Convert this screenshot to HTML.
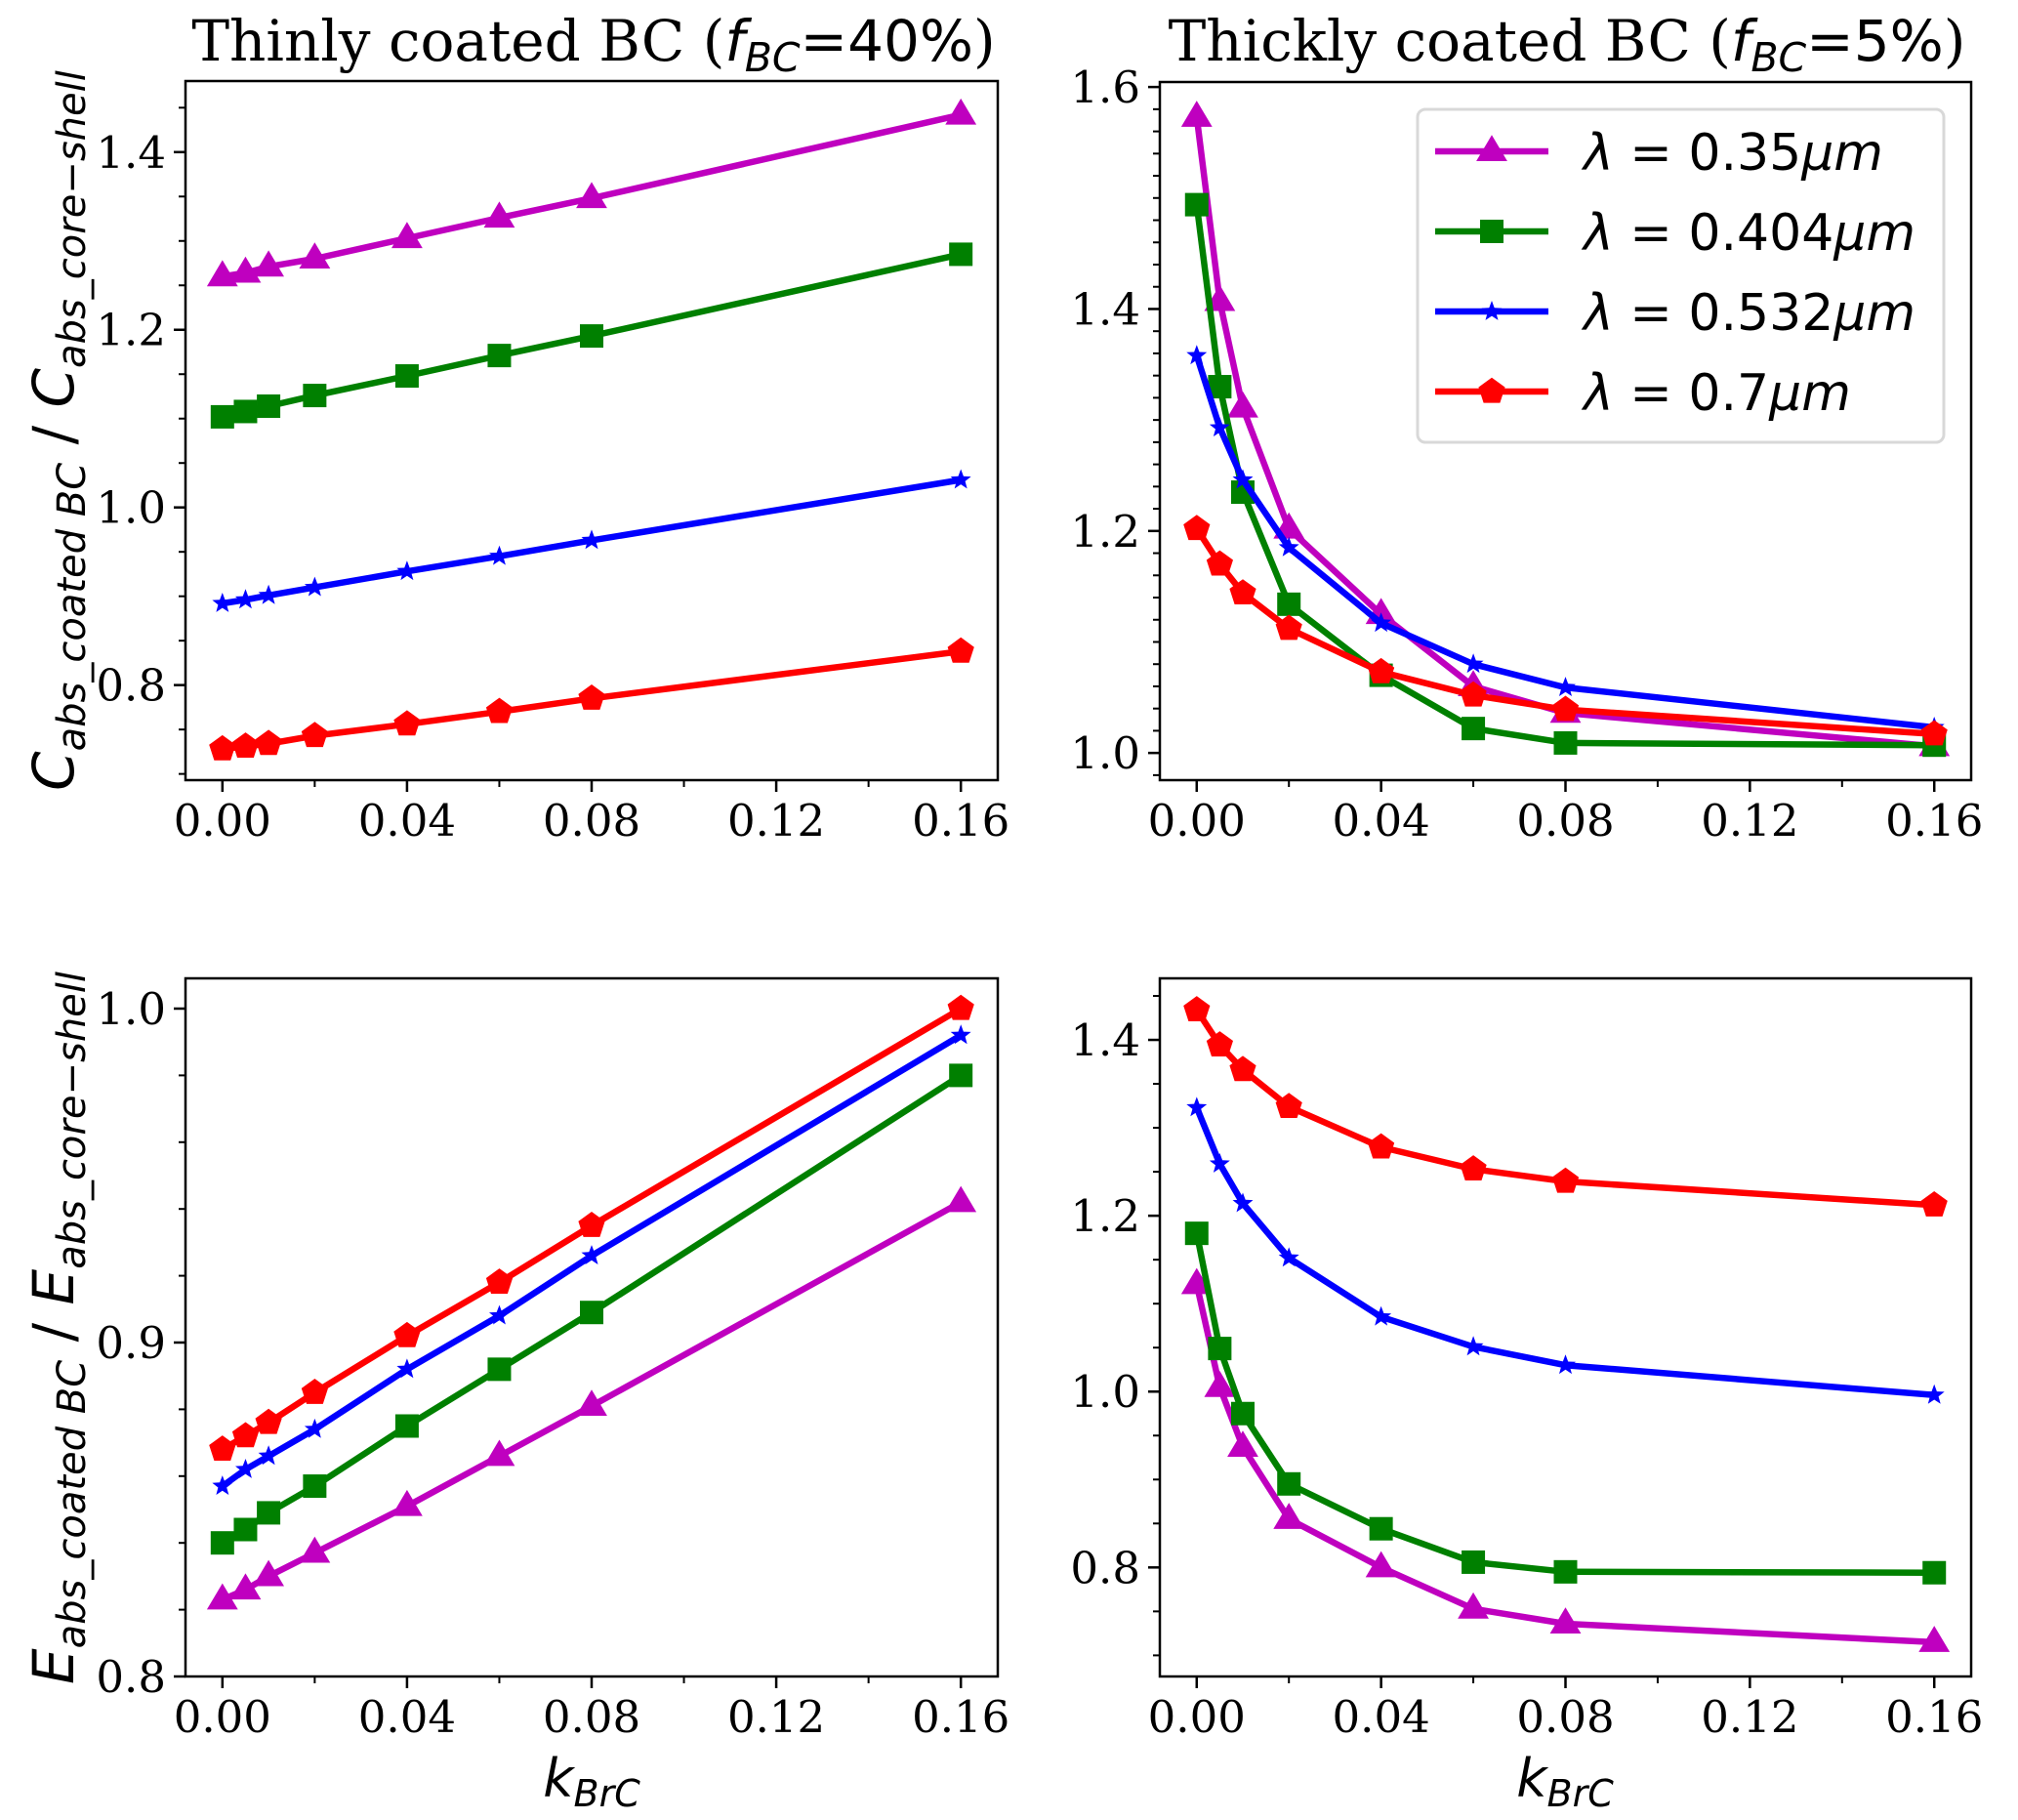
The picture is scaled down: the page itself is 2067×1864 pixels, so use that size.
<!DOCTYPE html>
<html><head><meta charset="utf-8">
<style>
html,body{margin:0;padding:0;background:#fff;}
svg{display:block;}
.serif{font-family:"DejaVu Serif","Liberation Serif",serif;}
.sans{font-family:"DejaVu Sans","Liberation Sans",sans-serif;}
</style></head>
<body>
<svg id="fig" width="2067" height="1864" viewBox="0 0 2067 1864" xmlns="http://www.w3.org/2000/svg"></svg>
<script>
const xVals = [0, 0.005, 0.01, 0.02, 0.04, 0.06, 0.08, 0.16];
const seriesNames = ["lambda-0.35", "lambda-0.404", "lambda-0.532", "lambda-0.7"];
const seriesColors = ["#bf00bf", "#008000", "#0000ff", "#ff0000"];
const seriesMarkers = ["triangle", "square", "star", "pentagon"];
const legendLabels = ["0.35", "0.404", "0.532", "0.7"];
const xTicks = [0, 0.04, 0.08, 0.12, 0.16];
const xTickLabels = ["0.00", "0.04", "0.08", "0.12", "0.16"];

// top-left: C ratio, thinly coated
const tlMagenta = [1.26, 1.264, 1.271, 1.28, 1.303, 1.326, 1.348, 1.442];
const tlGreen = [1.102, 1.108, 1.114, 1.126, 1.148, 1.171, 1.193, 1.285];
const tlBlue = [0.892, 0.896, 0.901, 0.910, 0.928, 0.945, 0.963, 1.031];
const tlRed = [0.728, 0.731, 0.734, 0.743, 0.756, 0.770, 0.785, 0.838];
const tlTicks = [0.8, 1.0, 1.2, 1.4];
const tlTickLabels = ["0.8", "1.0", "1.2", "1.4"];
// top-right: C ratio, thickly coated
const trMagenta = [1.573, 1.407, 1.311, 1.202, 1.125, 1.06, 1.036, 1.006];
const trGreen = [1.494, 1.33, 1.235, 1.134, 1.07, 1.022, 1.009, 1.007];
const trBlue = [1.358, 1.293, 1.246, 1.185, 1.117, 1.08, 1.059, 1.023];
const trRed = [1.202, 1.17, 1.144, 1.112, 1.073, 1.052, 1.039, 1.017];
const trTicks = [1.0, 1.2, 1.4, 1.6];
const trTickLabels = ["1.0", "1.2", "1.4", "1.6"];
// bottom-left: E ratio, thinly coated
const blMagenta = [0.823, 0.826, 0.830, 0.837, 0.851, 0.866, 0.881, 0.942];
const blGreen = [0.840, 0.844, 0.849, 0.857, 0.875, 0.892, 0.909, 0.980];
const blBlue = [0.857, 0.862, 0.866, 0.874, 0.892, 0.908, 0.926, 0.992];
const blRed = [0.868, 0.872, 0.876, 0.885, 0.902, 0.918, 0.935, 1.0];
const blTicks = [0.8, 0.9, 1.0];
const blTickLabels = ["0.8", "0.9", "1.0"];
// bottom-right: E ratio, thickly coated
const brMagenta = [1.122, 1.005, 0.937, 0.855, 0.80, 0.753, 0.736, 0.715];
const brGreen = [1.18, 1.049, 0.975, 0.895, 0.844, 0.806, 0.795, 0.794];
const brBlue = [1.323, 1.259, 1.214, 1.152, 1.085, 1.051, 1.030, 0.996];
const brRed = [1.434, 1.394, 1.366, 1.324, 1.278, 1.253, 1.239, 1.212];
const brTicks = [0.8, 1.0, 1.2, 1.4];
const brTickLabels = ["0.8", "1.0", "1.2", "1.4"];

const NS = "http://www.w3.org/2000/svg";
const svg = document.getElementById("fig");
function mk(tag, attrs, parent) {
  const e = document.createElementNS(NS, tag);
  for (const k in attrs) e.setAttribute(k, attrs[k]);
  (parent || svg).appendChild(e);
  return e;
}

const panels = [
  {id:"top-left", x0:190, x1:1022, y0:83, y1:799, yMin:0.693, yMax:1.48, ticks:tlTicks, labels:tlTickLabels, minor:0.05, data:[tlMagenta, tlGreen, tlBlue, tlRed]},
  {id:"top-right", x0:1188, x1:2019, y0:84, y1:799, yMin:0.9755, yMax:1.6045, ticks:trTicks, labels:trTickLabels, minor:0.02, data:[trMagenta, trGreen, trBlue, trRed]},
  {id:"bottom-left", x0:190, x1:1022, y0:1002, y1:1717, yMin:0.8, yMax:1.00906, ticks:blTicks, labels:blTickLabels, minor:0.02, data:[blMagenta, blGreen, blBlue, blRed]},
  {id:"bottom-right", x0:1188, x1:2019, y0:1002, y1:1717, yMin:0.676, yMax:1.47, ticks:brTicks, labels:brTickLabels, minor:0.05, data:[brMagenta, brGreen, brBlue, brRed]}
];

function marker(g, type, cx, cy, color, s) {
  let m;
  if (type === "triangle") {
    const r = s * 0.62;
    m = mk("polygon", {points:`${cx},${cy-r} ${cx+r*0.95},${cy+r*0.6} ${cx-r*0.95},${cy+r*0.6}`, fill:color}, g);
  } else if (type === "square") {
    const h = s * 0.5;
    m = mk("rect", {x:cx-h, y:cy-h, width:2*h, height:2*h, fill:color}, g);
  } else if (type === "star") {
    const R = s * 0.5, r = R * 0.42; let p = [];
    for (let i = 0; i < 10; i++) { const a = -Math.PI/2 + i*Math.PI/5; const rr = i%2 ? r : R; p.push((cx+rr*Math.cos(a)).toFixed(1)+","+(cy+rr*Math.sin(a)).toFixed(1)); }
    m = mk("polygon", {points:p.join(" "), fill:color}, g);
  } else {
    const R = s * 0.55; let p = [];
    for (let i = 0; i < 5; i++) { const a = -Math.PI/2 + i*2*Math.PI/5; p.push((cx+R*Math.cos(a)).toFixed(1)+","+(cy+R*Math.sin(a)).toFixed(1)); }
    m = mk("polygon", {points:p.join(" "), fill:color}, g);
  }
  return m;
}
const markerSizes = [27, 24, 22, 26];

panels.forEach(P => {
  const g = mk("g", {});
  
  
  const xs = v => P.x0 + (v + 0.008) / 0.176 * (P.x1 - P.x0);
  const ys = v => P.y1 - (v - P.yMin) / (P.yMax - P.yMin) * (P.y1 - P.y0);
  P.data.forEach((arr, si) => {
    const sg = mk("g", {}, g);
    
    
    const pts = arr.map((v, i) => xs(xVals[i]).toFixed(1) + "," + ys(v).toFixed(1)).join(" ");
    const line = mk("polyline", {points:pts, fill:"none", stroke:seriesColors[si], "stroke-width":6.5, "stroke-linejoin":"round"}, sg);
    
    
    arr.forEach((v, i) => {
      const m = marker(sg, seriesMarkers[si], xs(xVals[i]), ys(v), seriesColors[si], markerSizes[si]);
      
      
    });
  });
  const fr = mk("rect", {x:P.x0, y:P.y0, width:P.x1-P.x0, height:P.y1-P.y0, fill:"none", stroke:"#000", "stroke-width":2.5}, g);
  
  
  xTicks.forEach((t, i) => {
    const x = xs(t);
    mk("line", {x1:x, y1:P.y1, x2:x, y2:P.y1+12, stroke:"#000", "stroke-width":2.5}, g);
    const tx = mk("text", {x:x, y:P.y1+57, "text-anchor":"middle", "font-size":45, class:"serif"}, g);
    tx.textContent = xTickLabels[i];
    
    
  });
  [0.02, 0.06, 0.10, 0.14].forEach(t => {
    const x = xs(t);
    mk("line", {x1:x, y1:P.y1, x2:x, y2:P.y1+7, stroke:"#000", "stroke-width":2}, g);
  });
  P.ticks.forEach((t, i) => {
    const y = ys(t);
    mk("line", {x1:P.x0-12, y1:y, x2:P.x0, y2:y, stroke:"#000", "stroke-width":2.5}, g);
    const tx = mk("text", {x:P.x0-20, y:y+16, "text-anchor":"end", "font-size":45, class:"serif"}, g);
    tx.textContent = P.labels[i];
    
    
  });
  const start = Math.ceil(P.yMin / P.minor - 1e-6);
  for (let k = start; k * P.minor <= P.yMax + 1e-9; k++) {
    const v = k * P.minor;
    if (P.ticks.some(t => Math.abs(t - v) < 1e-6)) continue;
    const y = ys(v);
    mk("line", {x1:P.x0-7, y1:y, x2:P.x0, y2:y, stroke:"#000", "stroke-width":2}, g);
  }
});

function title(cx, text1, pct, name) {
  const t = mk("text", {x:cx, y:62, "text-anchor":"middle", "font-size":58, class:"serif"});
  
  
  t.innerHTML = text1 + ' (<tspan font-style="italic" font-family="DejaVu Sans">f</tspan><tspan font-style="italic" font-family="DejaVu Sans" font-size="41" dy="11">BC</tspan><tspan dy="-11" font-family="DejaVu Sans">=</tspan><tspan font-family="DejaVu Sans">' + pct + '%</tspan>)';
}
title(608, "Thinly coated BC", "40", "title-thinly-coated");
title(1605, "Thickly coated BC", "5", "title-thickly-coated");

function ylab(cy, sym, name) {
  const t = mk("text", {x:0, y:0, "text-anchor":"middle", "font-size":58, "font-style":"italic", class:"sans", transform:`translate(75,${cy}) rotate(-90)`});
  
  
  t.innerHTML = sym + '<tspan font-size="40" dy="12">abs_coated BC</tspan><tspan dy="-12" font-style="normal"> / </tspan>' + sym + '<tspan font-size="40" dy="12">abs_core−shell</tspan>';
}
ylab(441, "C", "y-axis-title-c-ratio");
ylab(1360, "E", "y-axis-title-e-ratio");

[606, 1603].forEach((cx, i) => {
  const t = mk("text", {x:cx, y:1840, "text-anchor":"middle", "font-size":54, "font-style":"italic", class:"sans"});
  
  
  t.innerHTML = 'k<tspan font-size="38" dy="10">BrC</tspan>';
});

const lg = mk("g", {});


mk("rect", {x:1452, y:112, width:539, height:341, rx:8, fill:"#fff", stroke:"#d8d8d8", "stroke-width":3}, lg);
legendLabels.forEach((lab, i) => {
  const y = 155 + i * 82;
  const eg = mk("g", {}, lg);
  
  
  mk("line", {x1:1470, y1:y, x2:1586, y2:y, stroke:seriesColors[i], "stroke-width":6.5}, eg);
  marker(eg, seriesMarkers[i], 1528, y, seriesColors[i], markerSizes[i]);
  const t = mk("text", {x:1622, y:y+19, "font-size":52, class:"sans"}, eg);
  t.innerHTML = '<tspan font-style="italic">λ</tspan> = ' + lab + '<tspan font-style="italic">μm</tspan>';
});
</script>
</body></html>
